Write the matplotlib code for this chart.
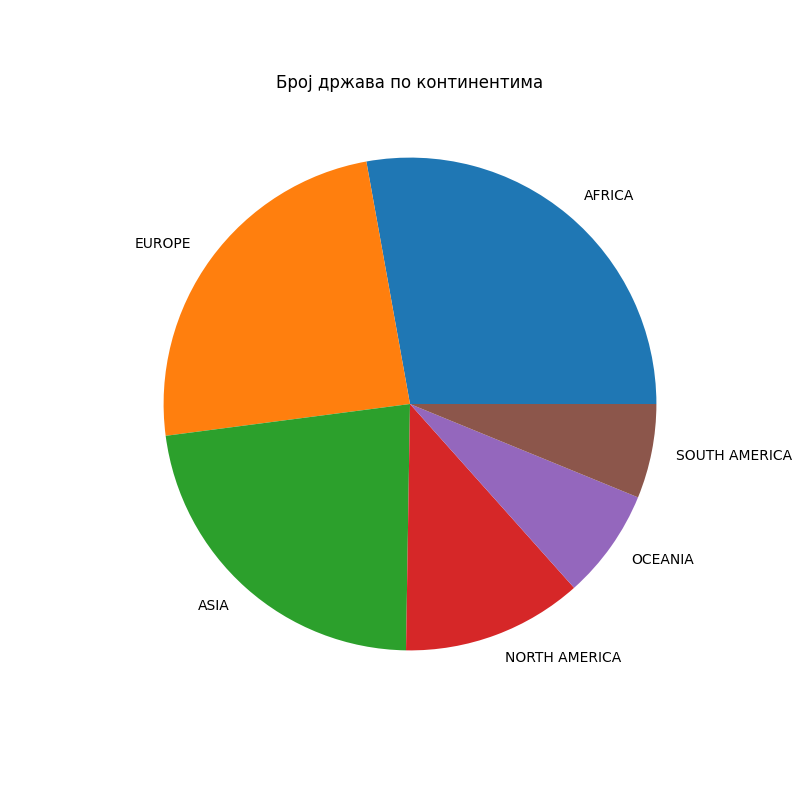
import matplotlib
matplotlib.use("Agg")
import matplotlib.pyplot as plt

continents = ["AFRICA", "EUROPE", "ASIA", "NORTH AMERICA", "OCEANIA", "SOUTH AMERICA"]
counts = [54, 47, 44, 23, 14, 12]

fig, ax = plt.subplots(figsize=(8, 8), dpi=100)
ax.pie(counts, labels=continents)
ax.set_title("Број држава по континентима")
fig.savefig("out.png")
